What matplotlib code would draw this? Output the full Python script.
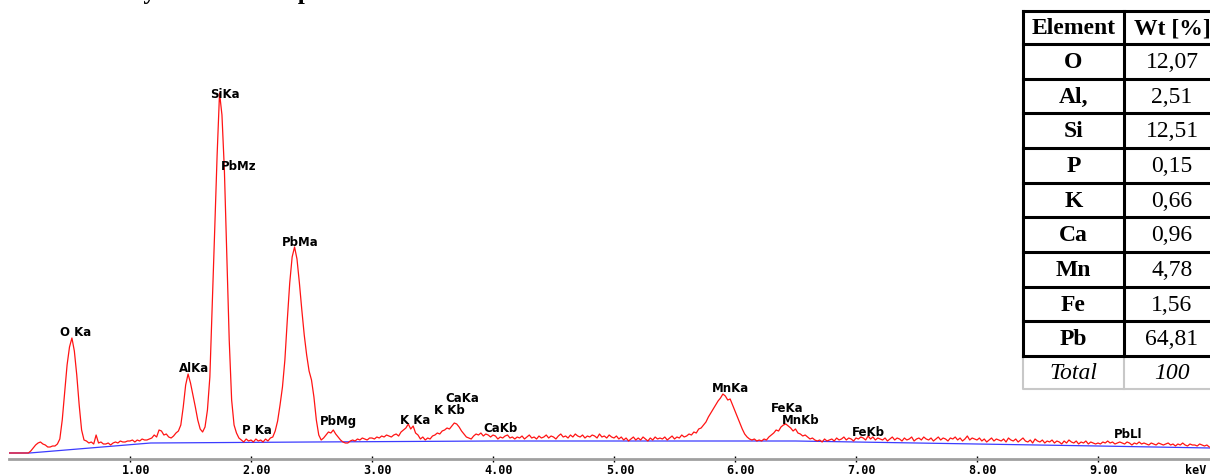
import matplotlib
matplotlib.use("Agg")
import matplotlib.pyplot as plt
import numpy as np

# EDS spectrum, counts per 0.02 keV channel starting at 0 keV
counts = [
    2, 2, 2, 2, 2, 2, 2, 2, 2, 4,
    7, 10, 12, 13, 11, 10, 8, 8, 9, 9,
    11, 16, 35, 62, 90, 108, 117, 104, 80, 50,
    25, 15, 14, 12, 13, 11, 20, 12, 13, 11,
    11, 12, 10, 12, 13, 12, 14, 13, 13, 14,
    14, 15, 13, 15, 14, 16, 15, 15, 16, 17,
    20, 18, 25, 24, 20, 21, 18, 17, 19, 22,
    24, 30, 48, 70, 81, 72, 60, 48, 35, 26,
    23, 28, 45, 78, 150, 225, 300, 362, 340, 285,
    200, 115, 55, 30, 22, 17, 15, 13, 16, 14,
    15, 13, 16, 14, 15, 13, 16, 14, 17, 18,
    24, 34, 50, 68, 95, 135, 172, 198, 208, 196,
    172, 145, 120, 100, 84, 75, 58, 35, 20, 15,
    17, 20, 23, 22, 25, 21, 18, 15, 13, 12,
    12, 14, 15, 14, 16, 15, 17, 16, 15, 17,
    17, 16, 18, 17, 19, 18, 20, 19, 18, 20,
    21, 19, 23, 25, 27, 31, 26, 29, 22, 20,
    16, 18, 15, 17, 16, 19, 20, 22, 21, 24,
    25, 27, 26, 29, 32, 31, 28, 24, 21, 18,
    17, 16, 19, 21, 20, 22, 19, 21, 20, 18,
    20, 19, 16, 18, 17, 19, 20, 17, 18, 16,
    18, 17, 19, 16, 18, 20, 17, 18, 16, 19,
    17, 18, 20, 17, 19, 18, 16, 19, 21, 18,
    19, 17, 20, 18, 21, 19, 18, 20, 17, 19,
    18, 20, 19, 17, 21, 18, 19, 17, 20, 18,
    17, 19, 16, 18, 15, 17, 14, 16, 18, 15,
    17, 15, 18, 16, 14, 17, 15, 18, 16, 17,
    16, 18, 15, 17, 19, 16, 18, 17, 20, 18,
    19, 21, 20, 23, 22, 26, 27, 30, 33, 38,
    42, 46, 50, 54, 57, 61, 59, 55, 56, 50,
    44, 38, 32, 26, 21, 18, 16, 15, 16, 14,
    15, 14, 16, 15, 18, 20, 22, 25, 24, 28,
    30, 31, 29, 27, 24, 26, 22, 21, 19, 20,
    18, 16, 17, 15, 14, 15, 13, 16, 14, 15,
    16, 14, 17, 15, 16, 18, 15, 17, 16, 14,
    17, 16, 18, 17, 15, 19, 16, 18, 15, 17,
    16, 15, 17, 14, 16, 18, 15, 17, 16, 14,
    17, 15, 16, 18, 14, 16, 17, 15, 18, 16,
    15, 17, 14, 16, 18, 15, 17, 16, 14, 17,
    16, 18, 15, 17, 14, 16, 19, 15, 17, 16,
    15, 17, 14, 16, 13, 15, 17, 14, 16, 15,
    14, 16, 13, 17, 15, 14, 16, 13, 15, 17,
    14, 13, 15, 12, 16, 14, 13, 15, 12, 14,
    13, 15, 12, 14, 13, 11, 14, 12, 15, 13,
    12, 14, 11, 13, 12, 14, 11, 13, 12, 11,
    12, 11, 13, 12, 14, 12, 13, 11, 12, 13,
    12, 11, 13, 12, 10, 12, 11, 13, 11, 12,
    11, 10, 12, 11, 10, 12, 11, 10, 11, 12,
    10, 11, 9, 11, 10, 12, 10, 9, 11, 10,
    10, 9, 11, 10, 9, 10, 8,
]
channel_kev = 0.02

# fitted background
bg_kev = [0.0, 0.17, 1.17, 2.5, 4.0, 6.5, 8.0, 9.0, 9.93]
bg_counts = [2, 2, 12, 13, 14, 14, 11, 9, 7]

tick_kev = [1, 2, 3, 4, 5, 6, 7, 8, 9]

elements = ['O', 'Al,', 'Si', 'P', 'K', 'Ca', 'Mn', 'Fe', 'Pb']
wt_pct = ['12,07', '2,51', '12,51', '0,15', '0,66', '0,96', '4,78', '1,56', '64,81']
total_row = ['Total', '100']

energy = np.arange(len(counts)) * channel_kev

fig = plt.figure(figsize=(12.1, 4.75), dpi=100)
ax = fig.add_axes([9 / 1210, 16 / 475, 1201 / 1210, 404 / 475])
ax.plot(bg_kev, bg_counts, color='#3c3cff', lw=0.9)
ax.plot(energy, counts, color='#ff1414', lw=0.9)
ax.set_xlim(0, 1201 / 121)
ax.set_ylim(-4, 400)
for s in ['top', 'right', 'left']:
    ax.spines[s].set_visible(False)
ax.spines['bottom'].set_color('#a0a0a0')
ax.spines['bottom'].set_linewidth(2)
ax.set_yticks([])
ax.set_xticks(tick_kev)
ax.set_xticklabels([])
ax.tick_params(axis='x', direction='inout', length=5, width=1, color='black')
for e in tick_kev:
    ax.annotate(f'{e:.2f}', xy=(e, 0), xycoords=('data', 'axes fraction'),
                xytext=(6, -11), textcoords='offset pixels', ha='center', va='center',
                family='DejaVu Sans Mono', fontweight='bold', fontsize=8.5)
ax.annotate('keV', xy=(1, 0), xycoords='axes fraction', xytext=(-25, -11),
            textcoords='offset pixels', ha='left', va='center',
            family='DejaVu Sans Mono', fontweight='bold', fontsize=8.5)

# line markers: (label, keV, counts) for the text placement
peak_marks = [
    ('O Ka', 0.554, 122), ('AlKa', 1.529, 86), ('SiKa', 1.785, 361),
    ('PbMz', 1.901, 289), ('PbMa', 2.405, 213), ('P Ka', 2.050, 24),
    ('PbMg', 2.719, 34), ('K Ka', 3.355, 35), ('K Kb', 3.636, 45),
    ('CaKa', 3.744, 56), ('CaKb', 4.058, 27), ('MnKa', 5.959, 66),
    ('FeKa', 6.430, 46), ('MnKb', 6.545, 35), ('FeKb', 7.099, 22),
    ('PbLl', 9.248, 20),
]
for name, x, y in peak_marks:
    ax.text(x, y, name, ha='center', va='center', fontsize=8.5, fontweight='bold',
            family='DejaVu Sans')

fig.text(92 / 1210, 476 / 475, 'Analysis of the sample', fontsize=18, fontweight='bold',
         family='Liberation Serif', ha='left', va='baseline')

# composition table, drawn in pixel coordinates
tab = fig.add_axes([0, 0, 1, 1])
tab.set_xlim(0, 1210)
tab.set_ylim(475, 0)
tab.set_axis_off()
x0, xm, x1 = 1023, 1124, 1222
y_top, y_head, pitch = 11, 44, 34.67
y_rows = [y_head + pitch * i for i in range(len(elements) + 1)]
y_end = y_rows[-1] + 33

# total row in light grey
tab.plot([x0, x0, x1], [y_rows[-1], y_end, y_end], color='#c8c8c8', lw=1.5)
tab.plot([xm, xm], [y_rows[-1], y_end], color='#c8c8c8', lw=1.5)
# black grid
for y in [y_top] + y_rows:
    tab.plot([x0, x1], [y, y], color='black', lw=2.2, solid_capstyle='projecting')
for x in [x0, xm]:
    tab.plot([x, x], [y_top, y_rows[-1]], color='black', lw=2.2, solid_capstyle='projecting')

cx0, cx1 = (x0 + xm) / 2, 1172
tf = dict(family='Liberation Serif', fontsize=17, ha='center', va='center')
tab.text(cx0, (y_top + y_head) / 2 + 1, 'Element', fontweight='bold', **tf)
tab.text(cx1, (y_top + y_head) / 2 + 1, 'Wt [%]', fontweight='bold', **tf)
for i, (el, wt) in enumerate(zip(elements, wt_pct)):
    yc = y_rows[i] + pitch / 2 + 1
    tab.text(cx0, yc, el, fontweight='bold', **tf)
    tab.text(cx1, yc, wt, **tf)
yc = (y_rows[-1] + y_end) / 2 + 1
tab.text(cx0, yc, total_row[0], style='italic', **tf)
tab.text(cx1, yc, total_row[1], style='italic', **tf)

fig.savefig('out.png', dpi=100)
